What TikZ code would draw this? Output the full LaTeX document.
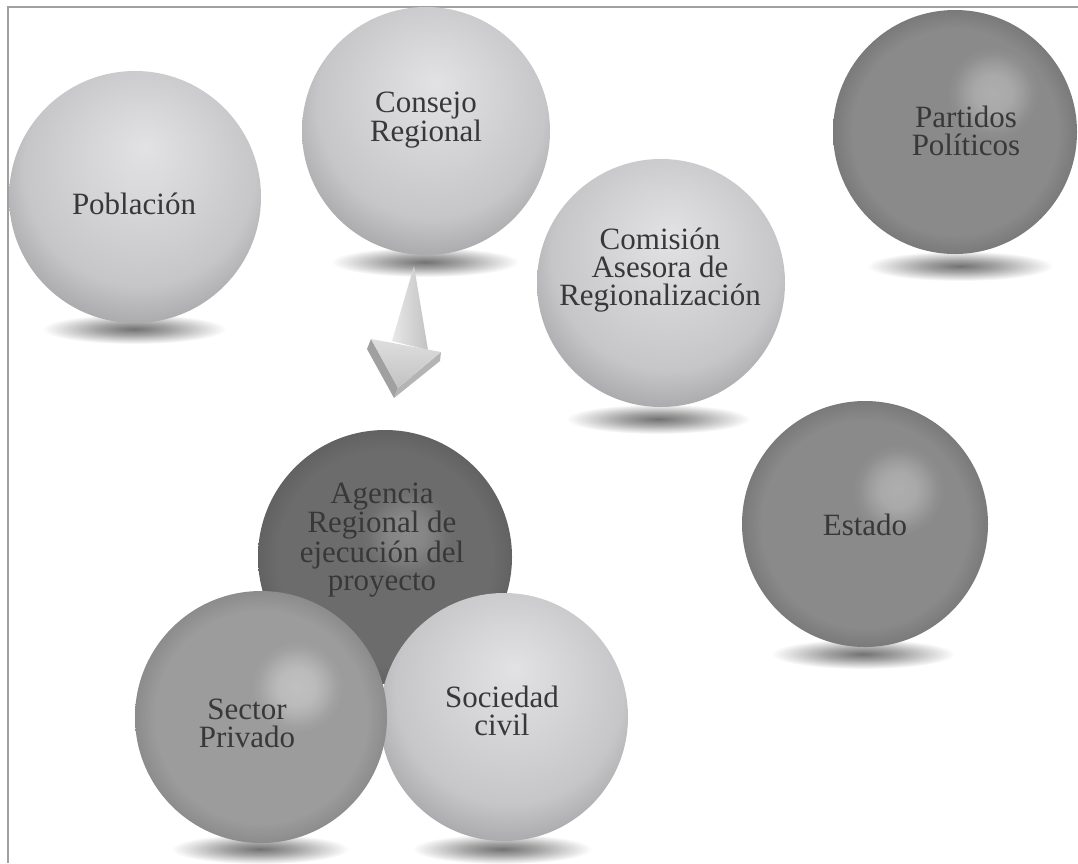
\documentclass[tikz,border=0pt]{standalone}
\usepackage{fontspec}
\setmainfont{Liberation Serif}
\usepackage{tikz}
\usetikzlibrary{calc,shapes.geometric}

\definecolor{framegray}{HTML}{A0A0A0}
\definecolor{inkgray}{HTML}{383838}
\definecolor{lightcore}{HTML}{E2E2E4}
\definecolor{lightmid}{HTML}{C6C6C8}
\definecolor{lightedge}{HTML}{ACACAE}
\definecolor{greyspot}{HTML}{AEAEAE}
\definecolor{greybase}{HTML}{8A8A8A}
\definecolor{greyedge}{HTML}{7A7A7A}
\definecolor{sectorspot}{HTML}{C0C0C0}
\definecolor{sectorbase}{HTML}{9C9C9C}
\definecolor{sectoredge}{HTML}{8C8C8C}
\definecolor{agencyspot}{HTML}{8A8A8A}
\definecolor{agencybase}{HTML}{6C6C6C}
\definecolor{agencyedge}{HTML}{626262}
\definecolor{shadowcore}{HTML}{727272}
\definecolor{arrowlight}{HTML}{E8E8E8}
\definecolor{arrowmid}{HTML}{C2C2C2}
\definecolor{arrowtop}{HTML}{DEDEDE}
\definecolor{arrowdark}{HTML}{A0A0A0}
\definecolor{arrowside}{HTML}{B4B4B4}

%sphere bodies (path fills the middle 50bp square)
\pgfdeclareradialshading{lightball}{\pgfpoint{2bp}{10bp}}{color(0bp)=(lightcore); color(12bp)=(lightcore!50!lightmid); color(23bp)=(lightmid); color(29bp)=(lightedge); color(50bp)=(lightedge)}
\pgfdeclareradialshading{greybody}{\pgfpoint{0bp}{0bp}}{color(0bp)=(greybase); color(21bp)=(greybase); color(25bp)=(greyedge); color(50bp)=(greyedge)}
\pgfdeclareradialshading{sectorbody}{\pgfpoint{0bp}{0bp}}{color(0bp)=(sectorbase); color(21bp)=(sectorbase); color(25bp)=(sectoredge); color(50bp)=(sectoredge)}
\pgfdeclareradialshading{agencybody}{\pgfpoint{0bp}{0bp}}{color(0bp)=(agencybase); color(21bp)=(agencybase); color(25bp)=(agencyedge); color(50bp)=(agencyedge)}
%highlights
\pgfdeclareradialshading{greyglow}{\pgfpoint{0bp}{0bp}}{color(0bp)=(greyspot); color(10bp)=(greyspot!85!greybase); color(16bp)=(greyspot!50!greybase); color(21bp)=(greyspot!15!greybase); color(25bp)=(greybase); color(50bp)=(greybase)}
\pgfdeclareradialshading{sectorglow}{\pgfpoint{0bp}{0bp}}{color(0bp)=(sectorspot); color(10bp)=(sectorspot!85!sectorbase); color(16bp)=(sectorspot!50!sectorbase); color(21bp)=(sectorspot!15!sectorbase); color(25bp)=(sectorbase); color(50bp)=(sectorbase)}
\pgfdeclareradialshading{agencyglow}{\pgfpoint{0bp}{0bp}}{color(0bp)=(agencyspot); color(10bp)=(agencyspot!85!agencybase); color(16bp)=(agencyspot!50!agencybase); color(21bp)=(agencyspot!15!agencybase); color(25bp)=(agencybase); color(50bp)=(agencybase)}
\pgfdeclareradialshading{floorshadow}{\pgfpoint{0bp}{0bp}}{color(0bp)=(shadowcore); color(10bp)=(shadowcore!65!white); color(25bp)=(white); color(50bp)=(white)}

\tikzset{
  sphere/.style={circle,inner sep=0pt,outer sep=0pt,minimum size=#1},
  glow/.style={circle,inner sep=0pt,outer sep=0pt,minimum size=92pt,shading=#1},
  floor/.style={ellipse,inner sep=0pt,shading=floorshadow,minimum height=30pt,minimum width=#1},
  balltext/.style={align=center,text=inkgray,font=\fontsize{31}{28}\selectfont}
}

\begin{document}
\begin{tikzpicture}[x=1pt,y=-1pt]
			\useasboundingbox (0,0) rectangle (1078,863);
			\fill[white] (0,0) rectangle (1078,863);
			
			%frame
			\draw[framegray,line width=1.4pt] (8,863) -- (8,7) -- (1078,7);
			
			%shadows
			\node[floor=184pt] (poblacion-s) at (134,329) {};
			\node[floor=188pt] (consejo-s) at (425,262) {};
			\node[floor=186pt] (partidos-s) at (960,266) {};
			\node[floor=184pt] (comision-s) at (658,419) {};
			\node[floor=184pt] (estado-s) at (863,654) {};
			\node[floor=178pt] (privado-s) at (260,849) {};
			\node[floor=180pt] (sociedad-s) at (502,849) {};
			
			%spheres with their highlights
			\node[sphere=252pt,shading=lightball] (poblacion) at (135,197) {};
			\node[sphere=248pt,shading=lightball] (consejo) at (426,131) {};
			\node[sphere=244pt,shading=greybody] (partidos) at (955,132) {};
			\node[glow=greyglow] (partidos-g) at ([shift={(38,-39)}]partidos.center) {};
			\node[sphere=248pt,shading=lightball] (comision) at (661,283) {};
			\node[sphere=246pt,shading=greybody] (estado) at (865,524) {};
			\node[glow=greyglow] (estado-g) at ([shift={(33,-34)}]estado.center) {};
			\node[sphere=254pt,shading=agencybody] (agencia) at (385,557) {};
			\node[glow=agencyglow] (agencia-g) at ([shift={(22,-24)}]agencia.center) {};
			\node[sphere=248pt,shading=lightball] (sociedad) at (504,717) {};
			\node[sphere=252pt,shading=sectorbody] (privado) at (261,717) {};
			\node[glow=sectorglow] (privado-g) at ([shift={(36,-30)}]privado.center) {};
			
			%arrow
			\shade[left color=arrowlight,right color=arrowmid] (414,266) -- (392,341) -- (428,350) -- cycle;
			\fill[arrowdark] (371,339) -- (398,388) -- (394,398) -- (367,349) -- cycle;
			\fill[arrowside] (398,388) -- (441,352) -- (440,361) -- (394,398) -- cycle;
			\shade[top color=arrowtop,bottom color=arrowmid] (371,339) -- (441,352) -- (398,388) -- cycle;
			
			%texts
			\node[balltext] (poblacion-t) at (134,204) {Población};
			\node[balltext] (consejo-t) at (426,120) {Consejo\\Regional};
			\node[balltext] (partidos-t) at (966,131) {Partidos\\Políticos};
			\node[balltext] (comision-t) at (660,270) {Comisión\\Asesora de\\Regionalización};
			\node[balltext] (estado-t) at (865,525) {Estado};
			\node[balltext] (agencia-t) at (382,540) {Agencia\\Regional de\\ejecución del\\proyecto};
			\node[balltext] (privado-t) at (247,723) {Sector\\Privado};
			\node[balltext] (sociedad-t) at (502,711) {Sociedad\\civil};
\end{tikzpicture}
\end{document}
